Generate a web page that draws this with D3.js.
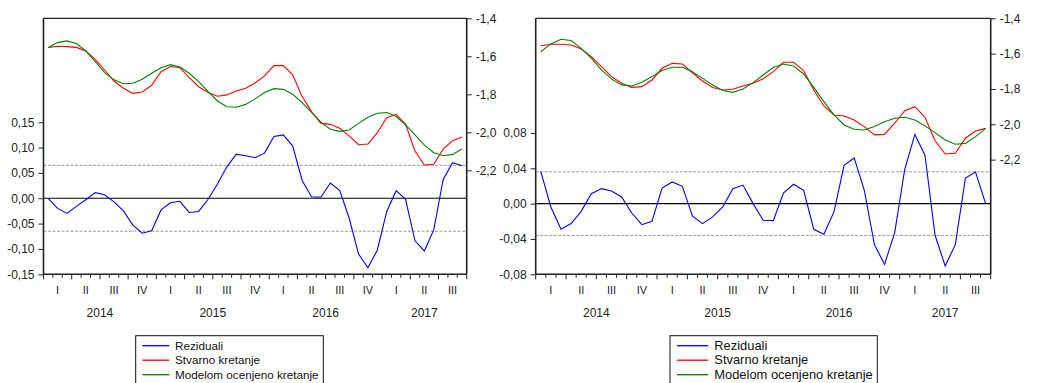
<!DOCTYPE html>
<html>
<head>
<meta charset="utf-8">
<script src="https://cdn.jsdelivr.net/npm/d3@7"></script>
<style>
  body { margin: 0; background: #fff; }
  svg { display: block; font-family: "Liberation Sans", Arial, sans-serif; }
</style>
</head>
<body>
<svg id="chart" width="1046" height="383"></svg>
<script>
// monthly data, Jan 2014 - Sep 2017
const quarterLabels = ['I', 'II', 'III', 'IV', 'I', 'II', 'III', 'IV', 'I', 'II', 'III', 'IV', 'I', 'II', 'III'];
const yearLabels = ['2014', '2015', '2016', '2017'];
const seriesNames = ['Reziduali', 'Stvarno kretanje', 'Modelom ocenjeno kretanje'];
const seriesColors = ['#0000ff', '#ff0000', '#008000'];

// left panel
const residualsA = [0.000, -0.020, -0.030, -0.016, -0.003, 0.011, 0.007, -0.007, -0.025, -0.053,
  -0.069, -0.064, -0.023, -0.009, -0.006, -0.028, -0.026, -0.002, 0.028, 0.062,
  0.087, 0.084, 0.080, 0.089, 0.122, 0.125, 0.103, 0.035, 0.003, 0.002,
  0.030, 0.015, -0.039, -0.110, -0.137, -0.102, -0.026, 0.015, -0.002, -0.084,
  -0.104, -0.062, 0.037, 0.070, 0.064];
const actualA = [-1.554, -1.547, -1.549, -1.553, -1.572, -1.616, -1.672, -1.730, -1.768, -1.795,
  -1.788, -1.753, -1.681, -1.654, -1.660, -1.712, -1.760, -1.791, -1.810, -1.803,
  -1.782, -1.768, -1.740, -1.703, -1.649, -1.649, -1.698, -1.812, -1.891, -1.953,
  -1.958, -1.979, -2.019, -2.065, -2.061, -2.002, -1.923, -1.905, -1.958, -2.098,
  -2.172, -2.168, -2.088, -2.044, -2.025];
const fittedA = [-1.554, -1.528, -1.519, -1.533, -1.572, -1.628, -1.686, -1.724, -1.744, -1.742,
  -1.721, -1.689, -1.660, -1.644, -1.656, -1.689, -1.733, -1.786, -1.835, -1.865,
  -1.868, -1.853, -1.824, -1.791, -1.770, -1.774, -1.800, -1.844, -1.895, -1.946,
  -1.984, -1.995, -1.988, -1.953, -1.921, -1.900, -1.896, -1.917, -1.961, -2.014,
  -2.067, -2.107, -2.123, -2.116, -2.088];
const leftTicksA = [-0.15, -0.10, -0.05, 0.00, 0.05, 0.10, 0.15];
const rightTicksA = [-2.2, -2.0, -1.8, -1.6, -1.4];
const bandA = 0.065;

// right panel
const residualsB = [0.0366, -0.0038, -0.029, -0.0226, -0.0087, 0.0113, 0.017, 0.0143, 0.0075, -0.0106,
  -0.0238, -0.020, 0.0177, 0.0245, 0.0196, -0.014, -0.0226, -0.015, -0.0038, 0.017,
  0.021, 0.000, -0.0189, -0.0192, 0.012, 0.0219, 0.015, -0.029, -0.0347, -0.0094,
  0.0434, 0.0517, 0.015, -0.0464, -0.0687, -0.0332, 0.0389, 0.0783, 0.0549, -0.0358,
  -0.0705, -0.0464, 0.029, 0.0358, 0.000];
const actualB = [-1.555, -1.547, -1.547, -1.551, -1.574, -1.617, -1.674, -1.730, -1.768, -1.791,
  -1.787, -1.749, -1.683, -1.655, -1.659, -1.708, -1.755, -1.792, -1.806, -1.802,
  -1.783, -1.768, -1.742, -1.702, -1.649, -1.649, -1.696, -1.806, -1.896, -1.947,
  -1.953, -1.976, -2.013, -2.060, -2.057, -1.994, -1.923, -1.900, -1.960, -2.093,
  -2.168, -2.164, -2.079, -2.038, -2.023];
const fittedB = [-1.589, -1.545, -1.519, -1.526, -1.570, -1.626, -1.692, -1.743, -1.777, -1.783,
  -1.762, -1.730, -1.696, -1.677, -1.677, -1.702, -1.740, -1.777, -1.809, -1.819,
  -1.800, -1.764, -1.721, -1.679, -1.659, -1.670, -1.715, -1.791, -1.872, -1.947,
  -2.004, -2.028, -2.032, -2.013, -1.985, -1.966, -1.960, -1.976, -2.009, -2.047,
  -2.089, -2.113, -2.108, -2.070, -2.023];
const leftTicksB = [-0.08, -0.04, 0.00, 0.04, 0.08];
const rightTicksB = [-2.2, -2.0, -1.8, -1.6, -1.4];
const bandB = 0.036;

const loc = d3.formatLocale({ decimal: ',', thousands: '.', grouping: [3], currency: ['', ''], minus: '-' });
const f1 = loc.format('.1f');
const f2 = loc.format('.2f');

const svg = d3.select('#chart');

function drawPanel(p) {
    const n = p.resid.length;
    const x = d3.scaleLinear().domain([0, n]).range([p.x0, p.x1]);
    const yL = d3.scaleLinear().domain(p.leftDomain).range([p.bottom, p.top]);
    const yR = d3.scaleLinear().domain(p.rightDomain).range([p.bottom, p.top]);
    const g = svg.append('g');

    //frame top
    g.append('line')
        .attr('x1', p.x0).attr('x2', p.x1).attr('y1', p.top).attr('y2', p.top)
        .attr('stroke', '#222').attr('stroke-width', 1.2);

    //band and zero lines
    [p.band, -p.band].forEach(v => {
        g.append('line')
            .attr('x1', p.x0).attr('x2', p.x1).attr('y1', yL(v)).attr('y2', yL(v))
            .attr('stroke', '#9a9a9a').attr('stroke-width', 1).attr('stroke-dasharray', '3,1.5');
    });
    g.append('line')
        .attr('x1', p.x0).attr('x2', p.x1).attr('y1', yL(0)).attr('y2', yL(0))
        .attr('stroke', '#000').attr('stroke-width', 1.2);

    //series
    const idx = d3.range(n);
    const lineL = d3.line().x(i => x(i + 0.5)).y(i => yL(p.resid[i]));
    const lineR = (arr) => d3.line().x(i => x(i + 0.5)).y(i => yR(arr[i]));
    g.append('path').attr('d', lineR(p.actual)(idx)).attr('fill', 'none')
        .attr('stroke', seriesColors[1]).attr('stroke-width', 1.1);
    g.append('path').attr('d', lineR(p.fitted)(idx)).attr('fill', 'none')
        .attr('stroke', seriesColors[2]).attr('stroke-width', 1.1);
    g.append('path').attr('d', lineL(idx)).attr('fill', 'none')
        .attr('stroke', seriesColors[0]).attr('stroke-width', 1.1);

    //left axis
    const axL = d3.axisLeft(yL).tickValues(p.leftTicks).tickFormat(f2).tickSize(5).tickPadding(4);
    const gl = g.append('g').attr('transform', `translate(${p.x0},0)`).call(axL);
    gl.select('.domain').remove();
    gl.append('line').attr('x1', 0).attr('x2', 0).attr('y1', p.top).attr('y2', p.bottom)
        .attr('stroke', '#222').attr('stroke-width', 1.6);

    //right axis
    const axR = d3.axisRight(yR).tickValues(p.rightTicks).tickFormat(f1).tickSize(5).tickPadding(4);
    const gr = g.append('g').attr('transform', `translate(${p.x1},0)`).call(axR);
    gr.select('.domain').remove();
    gr.append('line').attr('x1', 0).attr('x2', 0).attr('y1', p.top).attr('y2', p.bottom)
        .attr('stroke', '#222').attr('stroke-width', 1.6);

    [gl, gr].forEach(a => {
        a.selectAll('text').attr('font-size', 12).attr('fill', '#222')
            .attr('font-family', '"Liberation Sans", Arial, sans-serif');
        a.selectAll('.tick line').attr('stroke', '#222');
    });

    //bottom axis: month ticks, quarter labels, year labels
    const gb = g.append('g');
    gb.append('line').attr('x1', p.x0).attr('x2', p.x1).attr('y1', p.bottom).attr('y2', p.bottom)
        .attr('stroke', '#222').attr('stroke-width', 1.6);
    gb.selectAll('.mtick').data(d3.range(n + 1)).enter()
        .append('line')
        .attr('x1', d => x(d)).attr('x2', d => x(d))
        .attr('y1', p.bottom).attr('y2', d => p.bottom + (d % 3 === 0 ? 5 : 3.5))
        .attr('stroke', '#222').attr('stroke-width', 1);
    gb.selectAll('.qlab').data(quarterLabels).enter()
        .append('text')
        .attr('x', (d, i) => x(i * 3 + 1.5)).attr('y', p.bottom + 20)
        .attr('text-anchor', 'middle').attr('font-size', 11)
        .attr('font-family', '"Liberation Sans Narrow", "Liberation Sans", Arial, sans-serif')
        .attr('fill', '#222').text(d => d);
    gb.selectAll('.ylab').data(yearLabels).enter()
        .append('text')
        .attr('x', (d, i) => {
            const start = i * 12;
            const end = Math.min(n, start + 12);
            return x((start + end) / 2);
        })
        .attr('y', p.bottom + 43)
        .attr('text-anchor', 'middle').attr('font-size', 12).attr('fill', '#222')
        .text(d => d);

    //legend (box runs off the bottom of the picture)
    const lg = svg.append('g').attr('transform', `translate(${p.legX},${p.legY})`);
    lg.append('rect').attr('x', 0).attr('y', 0).attr('width', p.legW).attr('height', 60)
        .attr('fill', '#fff').attr('stroke', '#111').attr('stroke-width', 1);
    seriesNames.forEach((name, i) => {
        const yy = 10 + i * 14.5;
        lg.append('line').attr('x1', p.legPad).attr('x2', p.legPad + p.legLine).attr('y1', yy).attr('y2', yy)
            .attr('stroke', seriesColors[i]).attr('stroke-width', 1.3);
        lg.append('text').attr('x', p.legText).attr('y', yy + 4.3)
            .attr('font-size', p.legFont)
            .attr('fill', '#111')
            .text(name);
    });
}

drawPanel({
    x0: 43.5, x1: 466.7, top: 18.3, bottom: 274.3,
    leftDomain: [-0.15, 0.355], rightDomain: [-2.747, -1.4],
    leftTicks: leftTicksA, rightTicks: rightTicksA, band: bandA,
    resid: residualsA, actual: actualA, fitted: fittedA,
    legX: 135.7, legY: 335.7, legW: 187.6, legPad: 6.6, legLine: 27, legText: 39.3, legFont: 11.7
});
drawPanel({
    x0: 535.7, x1: 990.7, top: 18.3, bottom: 274.3,
    leftDomain: [-0.08, 0.2098], rightDomain: [-2.849, -1.4],
    leftTicks: leftTicksB, rightTicks: rightTicksB, band: bandB,
    resid: residualsB, actual: actualB, fitted: fittedB,
    legX: 670, legY: 335.7, legW: 207.3, legPad: 7, legLine: 31.3, legText: 44.3, legFont: 12.9
});
</script>
</body>
</html>
